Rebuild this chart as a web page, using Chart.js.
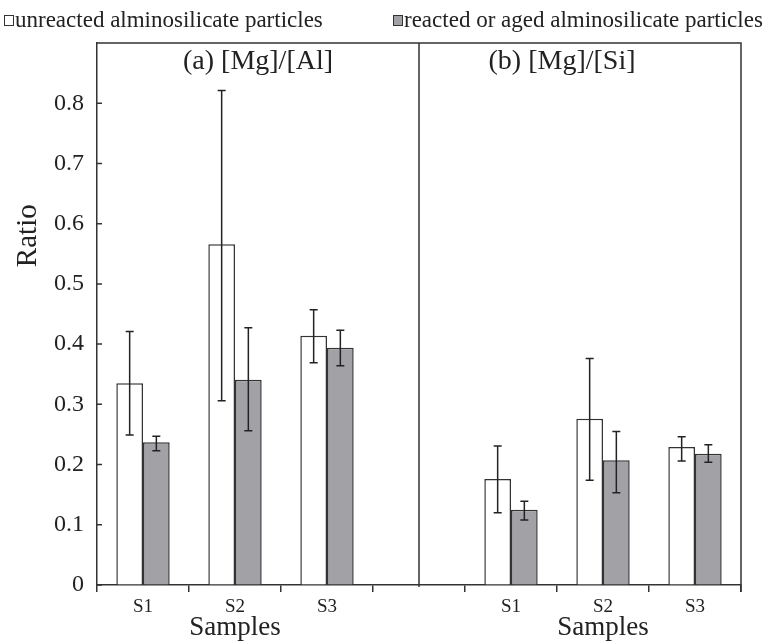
<!DOCTYPE html>
<html>
<head>
<meta charset="utf-8">
<script src="https://cdn.jsdelivr.net/npm/chart.js@4/dist/chart.umd.min.js"></script>
<style>
  html, body { margin: 0; padding: 0; background: #fff; }
  #wrap { width: 773px; height: 644px; }
</style>
</head>
<body>
<div id="wrap"><canvas id="c"></canvas></div>
<script>
// categories: left panel S1-S3, empty spacer, right panel S1-S3
const categories = ['S1', 'S2', 'S3', '', 'S1', 'S2', 'S3'];
const unreacted     = [0.335, 0.566, 0.414, null, 0.176, 0.276, 0.229];
const unreactedLow  = [0.249, 0.306, 0.369, null, 0.120, 0.174, 0.206];
const unreactedHigh = [0.421, 0.821, 0.457, null, 0.231, 0.376, 0.246];
const reacted       = [0.237, 0.341, 0.394, null, 0.125, 0.207, 0.218];
const reactedLow    = [0.223, 0.256, 0.364, null, 0.108, 0.153, 0.204];
const reactedHigh   = [0.247, 0.427, 0.423, null, 0.139, 0.255, 0.233];
const panelTitles = ['(a) [Mg]/[Al]', '(b) [Mg]/[Si]'];
const seriesNames = ['unreacted alminosilicate particles', 'reacted or aged alminosilicate particles'];
const seriesFills = ['#ffffff', '#a2a2a6'];

const serif = '"Liberation Serif", "Times New Roman", serif';
const ink = '#222';

// 误差线
const errorBars = {
  id: 'errorBars',
  afterDatasetsDraw(chart) {
    const ctx = chart.ctx;
    const y = chart.scales.y;
    const ranges = [[unreactedLow, unreactedHigh], [reactedLow, reactedHigh]];
    ctx.save();
    ctx.strokeStyle = ink;
    ctx.lineWidth = 1.5;
    ranges.forEach(([lo, hi], d) => {
      chart.getDatasetMeta(d).data.forEach((bar, i) => {
        if (lo[i] == null) return;
        const x = bar.x;
        const yTop = y.getPixelForValue(hi[i]);
        const yBot = y.getPixelForValue(lo[i]);
        ctx.beginPath();
        ctx.moveTo(x, yTop); ctx.lineTo(x, yBot);
        ctx.moveTo(x - 4, yTop); ctx.lineTo(x + 4, yTop);
        ctx.moveTo(x - 4, yBot); ctx.lineTo(x + 4, yBot);
        ctx.stroke();
      });
    });
    ctx.restore();
  }
};

// 边框、分隔线、图例、面板标题、轴标题
const decorations = {
  id: 'decorations',
  afterDraw(chart) {
    const ctx = chart.ctx;
    const a = chart.chartArea;
    const x = chart.scales.x;
    const y = chart.scales.y;
    ctx.save();
    ctx.strokeStyle = '#333';
    ctx.lineWidth = 1.5;
    ctx.beginPath();
    ctx.moveTo(a.left, a.top); ctx.lineTo(a.right, a.top); ctx.lineTo(a.right, a.bottom + 7);
    const mid = x.getPixelForValue(3);
    ctx.moveTo(mid, a.top); ctx.lineTo(mid, a.bottom + 2);
    // inward y ticks
    y.ticks.forEach(t => {
      if (t.value > 0.85) return;
      const py = y.getPixelForValue(t.value);
      ctx.moveTo(a.left, py); ctx.lineTo(a.left + 5, py);
    });
    ctx.stroke();

    // legend
    const legendX = [4, 393];
    ctx.font = '23px ' + serif;
    ctx.textBaseline = 'middle';
    ctx.textAlign = 'left';
    seriesNames.forEach((name, i) => {
      ctx.fillStyle = seriesFills[i];
      ctx.fillRect(legendX[i], 15, 9, 10);
      ctx.lineWidth = 1;
      ctx.strokeRect(legendX[i] + 0.5, 15.5, 9, 10);
      ctx.fillStyle = ink;
      ctx.fillText(name, legendX[i] + 11, 21);
    });

    ctx.textAlign = 'center';
    ctx.font = '28px ' + serif;
    ctx.fillText(panelTitles[0], (a.left + mid) / 2, 62);
    ctx.fillText(panelTitles[1], (mid + a.right) / 2 - 18, 62);

    ctx.font = '27px ' + serif;
    ctx.fillText('Samples', x.getPixelForValue(1), 628);
    ctx.fillText('Samples', x.getPixelForValue(5), 628);

    ctx.translate(28, y.getPixelForValue(0.58));
    ctx.rotate(-Math.PI / 2);
    ctx.font = '29px ' + serif;
    ctx.fillText('Ratio', 0, 0);
    ctx.restore();
  }
};

new Chart(document.getElementById('c'), {
  type: 'bar',
  data: {
    labels: categories,
    datasets: [
      {
        label: seriesNames[0],
        data: unreacted,
        backgroundColor: seriesFills[0],
        borderColor: '#333',
        borderWidth: 1.5
      },
      {
        label: seriesNames[1],
        data: reacted,
        backgroundColor: seriesFills[1],
        borderColor: '#333',
        borderWidth: 1.5
      }
    ]
  },
  options: {
    responsive: true,
    maintainAspectRatio: false,
    animation: false,
    categoryPercentage: 0.58,
    barPercentage: 1,
    layout: { padding: { top: 43, right: 32, left: 0, bottom: 0 } },
    plugins: {
      legend: { display: false },
      tooltip: { enabled: false }
    },
    scales: {
      x: {
        offset: true,
        grid: { offset: true, drawOnChartArea: false, tickLength: 7, color: '#333', lineWidth: 1.5 },
        border: { color: '#333', width: 1.5 },
        ticks: { color: ink, padding: 4, font: { family: serif, size: 19 } },
        afterFit(s) { s.height = 59; }
      },
      y: {
        min: 0,
        max: 0.9,
        grid: { drawOnChartArea: false, drawTicks: false },
        border: { color: '#333', width: 1.5 },
        ticks: {
          stepSize: 0.1,
          padding: 13,
          color: ink,
          font: { family: serif, size: 24 },
          callback: v => v > 0.85 ? '' : (v === 0 ? '0' : v.toFixed(1))
        },
        afterFit(s) { s.width = 97; }
      }
    }
  },
  plugins: [errorBars, decorations]
});
</script>
</body>
</html>
